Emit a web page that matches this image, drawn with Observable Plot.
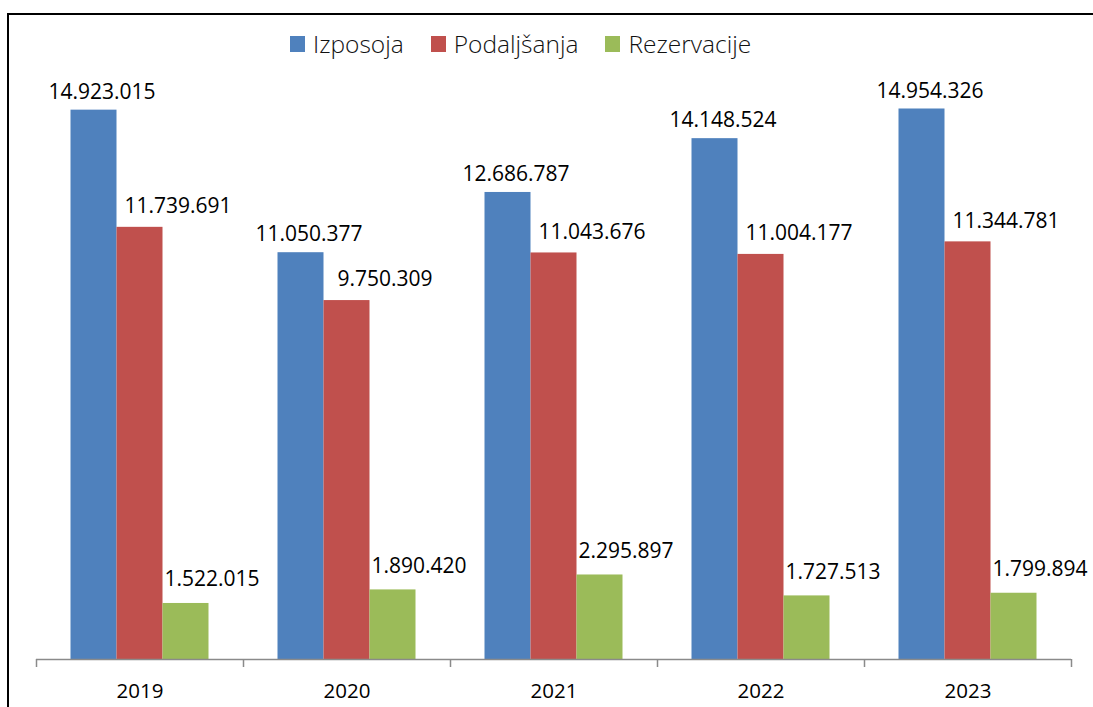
<!DOCTYPE html>
<html>
<head>
<meta charset="utf-8">
<script src="https://cdn.jsdelivr.net/npm/d3@7"></script>
<script src="https://cdn.jsdelivr.net/npm/@observablehq/plot@0.6"></script>
<style>
  html, body { margin: 0; padding: 0; background: #fff; }
  #wrap { position: relative; width: 1093px; height: 707px; overflow: hidden; background: #fff; }
  #frame { position: absolute; left: 7px; top: 13px; right: -5px; bottom: -5px;
           border-top: 2px solid #000; border-left: 2px solid #000; }
  #legend { position: absolute; top: 27px; left: 290px; display: flex; align-items: center;
            font-family: "Open Sans", sans-serif; font-weight: 300; font-size: 24.5px; color: #111; }
  #legend .item { display: flex; align-items: center; margin-right: 27px; }
  #legend .sw { width: 15px; height: 16px; margin-right: 8px; }
  #chart { position: absolute; left: 0; top: 0; }
</style>
</head>
<body>
<div id="wrap">
  <div id="frame"></div>
  <div id="legend"></div>
  <div id="chart"></div>
</div>
<script>
const years = ["2019", "2020", "2021", "2022", "2023"];
const seriesNames = ["Izposoja", "Podaljšanja", "Rezervacije"];
const izposoja    = [14923015, 11050377, 12686787, 14148524, 14954326];
const podaljsanja = [11739691,  9750309, 11043676, 11004177, 11344781];
const rezervacije = [ 1522015,  1890420,  2295897,  1727513,  1799894];
const colors = ["#4F81BD", "#C0504D", "#9BBB59"];

const seriesValues = [izposoja, podaljsanja, rezervacije];
const fmt = d3.formatLocale({decimal: ",", thousands: ".", grouping: [3], currency: ["", ""]}).format(",d");

// band layout in data units: each year occupies [i-0.5, i+0.5]
const pad = 1 / 6, barW = 2 / 9;
const data = [];
seriesValues.forEach((vals, j) => {
  vals.forEach((v, i) => {
    const x1 = i - 0.5 + pad + j * barW;
    data.push({year: years[i], series: seriesNames[j], sIdx: j, value: v, x1, x2: x1 + barW, xc: x1 + barW / 2});
  });
});

// legend
const leg = document.getElementById("legend");
seriesNames.forEach((s, j) => {
  const it = document.createElement("div");
  it.className = "item";
  it.innerHTML = `<span class="sw" style="background:${colors[j]}"></span><span>${s}</span>`;
  leg.appendChild(it);
});

const labelOffsets = [{dx: 8, dy: -18}, {dx: 38, dy: -21}, {dx: 26, dy: -24}];

const chart = Plot.plot({
  width: 1093,
  height: 707,
  marginLeft: 36,
  marginRight: 22,
  marginTop: 70,
  marginBottom: 48,
  style: {background: "transparent", fontFamily: "'Open Sans', sans-serif"},
  x: {domain: [-0.5, years.length - 0.5], axis: null},
  y: {domain: [0, 16000000], axis: null},
  color: {domain: seriesNames, range: colors},
  marks: [
    Plot.rectY(data, {x1: "x1", x2: "x2", y: "value", fill: "series"}),
    Plot.ruleY([0], {stroke: "#8a8a8a", strokeWidth: 1.5}),
    Plot.axisX({
      ticks: d3.range(years.length + 1).map(i => i - 0.5),
      tickFormat: () => "",
      tickSize: 8,
      stroke: "#8a8a8a",
      strokeWidth: 1.5
    }),
    Plot.axisX({
      ticks: d3.range(years.length),
      tickFormat: i => years[i],
      tickSize: 0,
      tickPadding: 24,
      fontSize: 20.5,
      fill: "#000"
    }),
    ...seriesNames.map((s, j) => Plot.text(data.filter(d => d.sIdx === j), {
      x: "xc",
      y: "value",
      text: d => fmt(d.value),
      dx: labelOffsets[j].dx,
      dy: labelOffsets[j].dy,
      lineAnchor: "middle",
      fontSize: 21,
      fill: "#000"
    }))
  ]
});
document.getElementById("chart").appendChild(chart);
</script>
</body>
</html>
